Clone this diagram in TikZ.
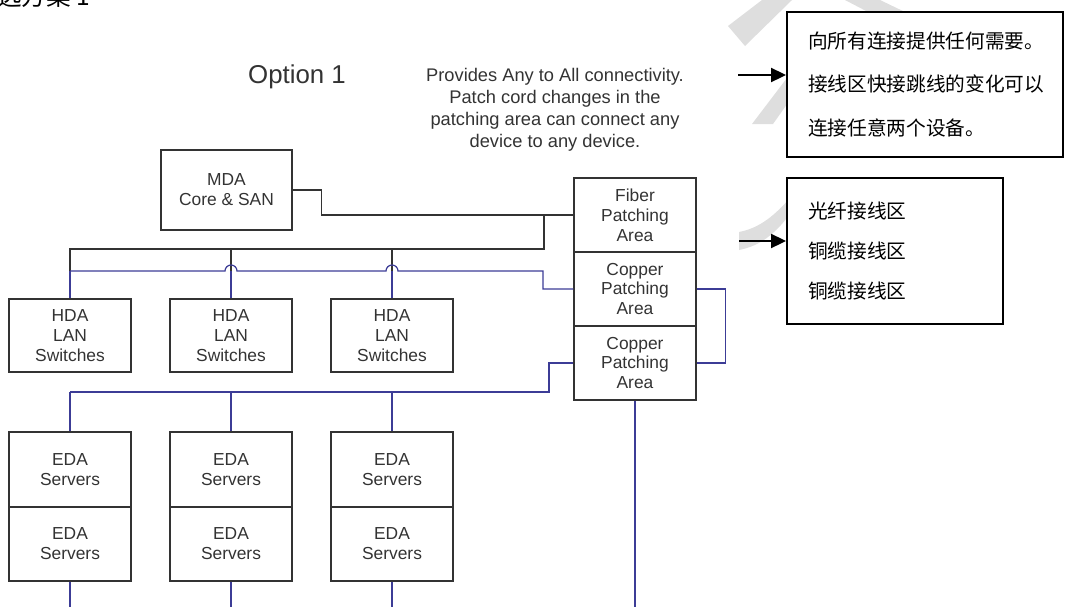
\documentclass[tikz,border=0pt]{standalone}
\usepackage{fontspec}
\setmainfont{Liberation Sans}
\newfontfamily\cjk{Noto Sans CJK SC}
\usetikzlibrary{arrows.meta}

\definecolor{boxline}{RGB}{51,51,51}
\definecolor{cablecol}{RGB}{60,60,150}
\definecolor{markgray}{RGB}{222,222,222}

\tikzset{
  area/.style={draw=boxline, line width=0.75pt, text=boxline, align=center,
    minimum width=2.44cm, font=\fontsize{9.9}{11.3}\selectfont},
  wire/.style={draw=boxline, line width=0.7pt},
  cable/.style={draw=cablecol, line width=0.7pt},
  note/.style={draw=black, line width=1.1pt, fill=white, align=left,
    inner xsep=0.42cm, font=\cjk\fontsize{11.2}{25}\selectfont},
  pointer/.style={line width=1.1pt, -{Triangle[length=0.3cm,width=0.28cm]}}
}

\begin{document}
\begin{tikzpicture}[x=0.02cm, y=-0.02cm]
  \useasboundingbox (0,0) rectangle (1066,606);
  \clip (0,0) rectangle (1066,606);

  \fill[markgray] (762,0) -- (792,0) -- (745,46) -- (728,26) -- cycle;
  \fill[markgray] (752,124) -- (773,124) -- (790,100) -- (790,74) -- cycle;
  \fill[markgray] (845,0) -- (880,0) -- (905,12) -- (868,12) -- cycle;
  \fill[markgray] (739,232) .. controls (760,228) and (775,215) .. (790,198)
    -- (790,214) .. controls (775,234) and (760,246) .. (739,250) -- cycle;

  \node[anchor=base west, inner sep=0, font=\cjk\fontsize{14}{16}\selectfont] (head) at (-3,5) {选方案\ 1};
  \node[text=boxline, font=\fontsize{14.7}{17}\selectfont] (title) at (297,77) {Option 1};
  \node[text=boxline, align=center, font=\fontsize{10.4}{12.6}\selectfont] (desc) at (555,110)
    {Provides Any to All connectivity.\\Patch cord changes in the\\patching area can connect any\\device to any device.};

  \node[area, minimum width=2.62cm, minimum height=1.6cm] (mda) at (226.5,190) {MDA\\Core \& SAN};
  \node[area, minimum height=1.48cm] (fiber) at (635,215) {Fiber\\Patching\\Area};
  \node[area, minimum height=1.48cm] (copper1) at (635,289) {Copper\\Patching\\Area};
  \node[area, minimum height=1.48cm] (copper2) at (635,363) {Copper\\Patching\\Area};

  \foreach \n/\x in {1/70, 2/231, 3/392} {
    \node[area, minimum height=1.46cm] (hda\n) at (\x,335.5) {HDA\\LAN\\Switches};
    \node[area, minimum height=1.5cm] (edatop\n) at (\x,469.5) {EDA\\Servers};
    \node[area, minimum height=1.48cm] (edabot\n) at (\x,544) {EDA\\Servers};
  }

  \node[note, minimum width=5.52cm, minimum height=2.9cm, text width=4.68cm] (note1) at (925,84.5)
    {向所有连接提供任何需要。\\接线区快接跳线的变化可以\\连接任意两个设备。};
  \node[note, minimum width=4.32cm, minimum height=2.92cm, text width=3.48cm,
    font=\cjk\fontsize{11.2}{23}\selectfont] (note2) at (895,251)
    {光纤接线区\\铜缆接线区\\铜缆接线区};

  \coordinate (fbus) at (544,215);
  \coordinate (bus) at (544,249);
  \coordinate (hbus) at (543,271);
  \coordinate (ebus) at (549,392);

  \draw[wire] (mda.east) -- ++(29,0) |- (fiber.west);
  \draw[wire] (fbus) -- (bus) -- (hda1.north |- bus) -- (hda1.north |- hbus);
  \foreach \n in {2,3}
    \draw[wire] (hda\n.north |- bus) -- (hda\n.north |- hbus);

  \draw[cable] (copper1.west) -- (hbus |- copper1.west) -- (hbus) -- (398,271)
    arc[start angle=0, end angle=180, radius=0.12cm] -- (237,271)
    arc[start angle=0, end angle=180, radius=0.12cm] -- (hda1.north |- hbus);
  \foreach \n in {1,2,3} {
    \draw[cable] (hda\n.north |- hbus) -- (hda\n.north);
    \draw[cable] (edatop\n.north |- ebus) -- (edatop\n.north);
    \draw[cable] (edabot\n.south) -- ++(0,30);
  }
  \draw[cable] (copper1.east) -- ++(29,0) |- (copper2.east);
  \draw[cable] (copper2.west) -- (ebus |- copper2.west) -- (ebus) -- (edatop1.north |- ebus);
  \draw[cable] (copper2.south) -- ++(0,210);

  \coordinate (tail1) at (738,75);
  \coordinate (tail2) at (739,241);
  \draw[pointer] (tail1) -- (tail1 -| note1.west);
  \draw[pointer] (tail2) -- (tail2 -| note2.west);
\end{tikzpicture}
\end{document}
